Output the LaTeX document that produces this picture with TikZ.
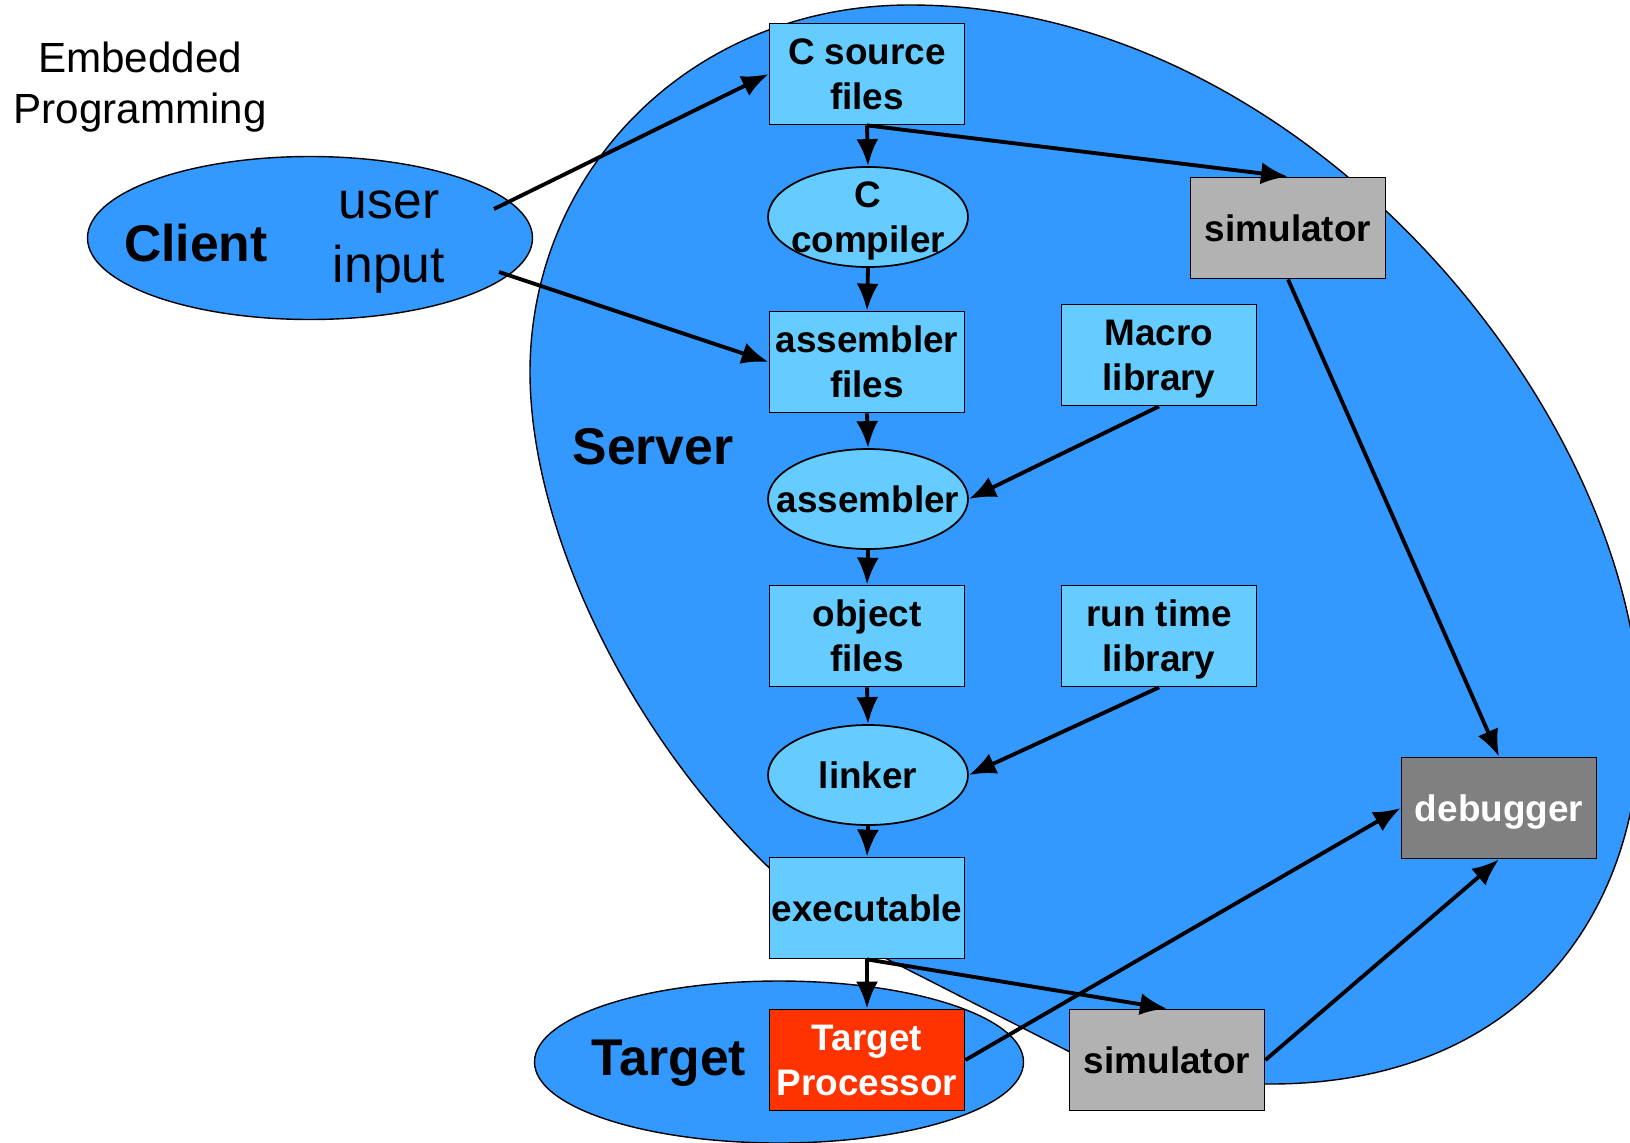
\documentclass[tikz,border=0pt]{standalone}
\usepackage{fontspec}
\setmainfont{Liberation Sans}
\usetikzlibrary{arrows.meta,shapes.geometric}
\definecolor{serverblue}{HTML}{3399FF}
\definecolor{filecyan}{HTML}{66CCFF}
\definecolor{simgray}{HTML}{B2B2B2}
\definecolor{dbggray}{HTML}{808080}
\definecolor{procred}{HTML}{FF3300}
\newcommand{\boxfont}{\fontsize{10.5}{12.8}\selectfont\bfseries}
\newcommand{\bigfont}{\fontsize{14.7}{18.2}\selectfont}
\tikzset{%
	filebox/.style  = {draw, rectangle, fill=filecyan, line width=0.5pt, minimum width=19.5mm, minimum height=10.1mm, inner sep=0pt, text depth=0pt, align=center, font=\boxfont},
	tool/.style     = {draw, ellipse, fill=filecyan, line width=0.5pt, minimum width=20mm, minimum height=10mm, inner sep=0pt},
	tooltext/.style = {align=center, font=\boxfont, inner sep=0pt, text depth=0pt},
	simbox/.style   = {filebox, fill=simgray},
	zone/.style     = {draw, fill=serverblue, line width=0.4pt},
	bigname/.style  = {font=\bigfont\bfseries, inner sep=0pt},
	link/.style     = {line width=1.1pt, -{Latex[length=2.7mm,width=2.2mm]}},
}

\begin{document}
\begin{tikzpicture}[x=0.1mm, y=-0.1mm]
	\useasboundingbox (0,0) rectangle (1630,1142);
	% server area
	\path[zone] (910,5) .. controls (1310,5) and (1640,420) .. (1640,720)
		.. controls (1640,920) and (1515,1086) .. (1265,1084)
		.. controls (1180,1088) and (1120,1075) .. (1070,1052)
		-- (885,958) -- (780,878)
		.. controls (630,740) and (530,530) .. (530,372)
		.. controls (530,172) and (690,5) .. cycle;
	\node[bigname] (srvname) at (653,447) {Server};
	% target and client areas
	\node[zone, ellipse, minimum width=48.9mm, minimum height=16.2mm] (target) at (779,1062) {};
	\node[bigname] (tgtname) at (669,1063) {Target};
	\node[zone, ellipse, minimum width=44.5mm, minimum height=16.3mm] (client) at (310,238) {};
	\node[bigname] (cltname) at (196,243) {Client};
	\node[font=\bigfont, align=center, inner sep=0pt] (uinput) at (389,242) {user\\input};
	\node[font=\fontsize{12}{14.5}\selectfont, align=center, inner sep=0pt] (title) at (140,87) {Embedded\\Programming};
	\coordinate (uiA) at (494,209);
	\coordinate (uiB) at (499,272);

	% tool chain
	\node[filebox] (csrc) at (867,74) {C source\\files};
	\node[tool, label={[tooltext]center:C\\compiler}] (ccomp) at (868,217) {};
	\node[filebox] (asmf) at (867,362) {assembler\\files};
	\node[tool, label={[tooltext]center:assembler}] (asm) at (868,499) {};
	\node[filebox] (obj) at (867,636) {object\\files};
	\node[tool, label={[tooltext]center:linker}] (link) at (868,775) {};
	\node[filebox] (exe) at (867,908) {executable};
	\node[filebox, fill=procred, text=white] (tproc) at (867,1060) {Target\\Processor};
	\node[filebox] (macro) at (1159,355) {Macro\\library};
	\node[filebox] (rtl) at (1159,636) {run time\\library};
	\node[simbox] (simA) at (1288,228) {simulator};
	\node[simbox] (simB) at (1167,1060) {simulator};
	\node[simbox, fill=dbggray, text=white] (dbg) at (1499,808) {debugger};

	\foreach \a/\b in {csrc/ccomp, ccomp/asmf, asmf/asm, asm/obj, obj/link, link/exe, exe/tproc}
		\draw[link] (\a.south) -- (\b.north);
	\draw[link] (uiA) -- (csrc.west);
	\draw[link] (uiB) -- (asmf.west);
	\draw[link] (csrc.south) -- (simA.north);
	\draw[link] (exe.south) -- (simB.north);
	\draw[link] (macro.south) -- (asm.east);
	\draw[link] (rtl.south) -- (link.east);
	\draw[link] (simA.south) -- (dbg.north);
	\draw[link] (tproc.east) -- (dbg.west);
	\draw[link] (simB.east) -- (dbg.south);
\end{tikzpicture}
\end{document}
